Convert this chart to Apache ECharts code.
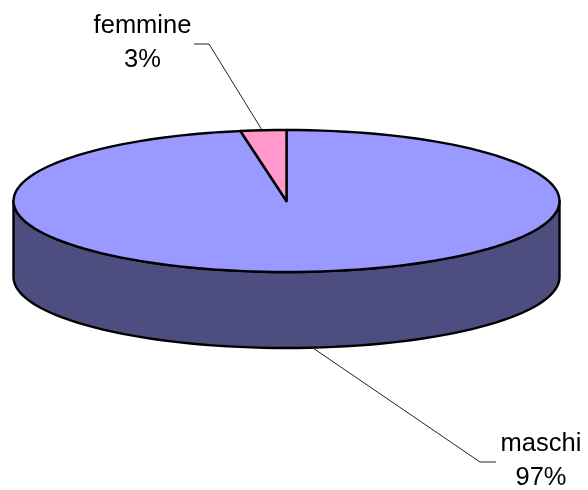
<!DOCTYPE html>
<html>
<head>
<meta charset="utf-8">
<style>html,body{margin:0;padding:0;background:#fff}#c{width:588px;height:490px}</style>
<script src="https://cdn.jsdelivr.net/npm/echarts@6/dist/echarts.min.js"></script>
</head>
<body>
<div id="c"></div>
<script>
const sliceNames = ['maschi', 'femmine'];
const sliceValues = [97.3, 2.7];

const topColors = ['#9999FF', '#FF99CC'];
const wallColors = ['#4D4D80', '#804D66'];
const labelCenters = [[541, 427], [142.5, 9]];
const leaders = [
  [[496, 462], [480, 462], [310, 346]],
  [[194, 44], [209, 44], [262, 130]]
];
const CX = 286.5, CY = 201, RX = 273, RY = 71, DEPTH = 76, STEP = 2.5;

const total = sliceValues.reduce((a, b) => a + b, 0);
function rim(deg, dy) {
  const r = deg * Math.PI / 180;
  return [CX + RX * Math.sin(r), CY - RY * Math.cos(r) + (dy || 0)];
}
function arc(a0, a1, dy) {
  const pts = [];
  for (let a = a0; a < a1; a += STEP) pts.push(rim(a, dy));
  pts.push(rim(a1, dy));
  return pts;
}
function renderItem(params, api) {
  const i = params.dataIndex;
  let before = 0;
  for (let k = 0; k < i; k++) before += sliceValues[k];
  const a0 = before / total * 360;
  const a1 = a0 + api.value(0) / total * 360;
  const children = [];
  const lineStyle = { stroke: '#000', lineWidth: 2.4, lineJoin: 'round', fill: null };
  const w0 = Math.max(a0, 90), w1 = Math.min(a1, 270);
  if (w1 > w0) {
    children.push({
      type: 'polygon',
      shape: { points: arc(w0, w1, 0).concat(arc(w0, w1, DEPTH).reverse()) },
      style: Object.assign({}, lineStyle, { fill: wallColors[i] })
    });
  }
  children.push({
    type: 'polygon',
    shape: { points: [[CX, CY]].concat(arc(a0, a1, 0)) },
    style: Object.assign({}, lineStyle, { fill: topColors[i] })
  });
  children.push({
    type: 'polyline',
    shape: { points: leaders[i] },
    style: { stroke: '#222', lineWidth: 1, fill: null }
  });
  children.push({
    type: 'text',
    x: labelCenters[i][0],
    y: labelCenters[i][1],
    style: {
      text: sliceNames[i] + '\n' + Math.round(api.value(0) / total * 100) + '%',
      fill: '#000',
      align: 'center',
      verticalAlign: 'top',
      font: '25.5px "Liberation Sans", Arial, sans-serif',
      lineHeight: 34
    }
  });
  return { type: 'group', children };
}
const chart = echarts.init(document.getElementById('c'), null, { renderer: 'canvas' });
chart.setOption({
  animation: false,
  backgroundColor: '#fff',
  series: [{
    type: 'custom',
    coordinateSystem: 'none',
    renderItem,
    data: sliceValues.map((v, i) => ({ name: sliceNames[i], value: [v] }))
  }]
});
</script>
</body>
</html>
